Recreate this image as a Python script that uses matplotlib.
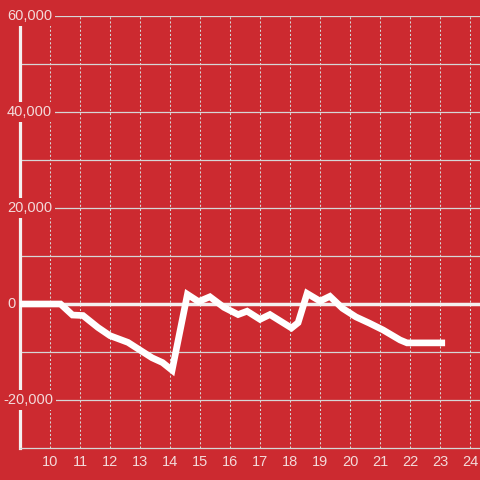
import matplotlib
matplotlib.use("Agg")
import matplotlib.pyplot as plt
import matplotlib.transforms as mtransforms

hours = [9.0, 10.35, 10.75, 11.1, 11.6, 12.0, 12.6, 12.9, 13.4, 13.75, 14.07,
         14.58, 14.95, 15.33, 15.8, 16.27, 16.57, 17.0, 17.33, 18.05, 18.27,
         18.57, 19.0, 19.33, 19.75, 20.2, 20.65, 21.1, 21.67, 21.9, 23.17]
values = [0, 0, -2300, -2400, -4900, -6600, -8000, -9200, -11200, -12200, -13800,
          2000, 500, 1500, -700, -2200, -1500, -3200, -2200, -5000, -3900,
          2200, 600, 1600, -900, -2700, -4000, -5400, -7500, -8100, -8100]

x_ticks = list(range(10, 25))
y_ticks = [60000, 40000, 20000, 0, -20000]
y_labels = ["60,000", "40,000", "20,000", "0", "-20,000"]

bg = "#cc2a30"
txt = "#f3dada"
grid_c = "#d6d6d6"

fig = plt.figure(figsize=(4.8, 4.8), dpi=100, facecolor=bg)
ax = fig.add_axes([20/480, 32/480, 460/480, 432/480])
ax.set_facecolor(bg)
ax.set_xlim(9, 24 + 1/3)
ax.set_ylim(-30000, 60000)

# grid
for yv in [60000, 50000, 40000, 30000, 20000, 10000, -10000, -20000]:
    ax.axhline(yv, color=grid_c, lw=0.9, zorder=1)
for xv in x_ticks:
    ax.axvline(xv, color=grid_c, lw=0.75, linestyle=(0, (2, 2)), zorder=1)
ax.axhline(0, color="#f4f0f0", lw=2.5, zorder=2)

ax.plot(hours, values, color="white", lw=4.8, solid_capstyle="butt",
        solid_joinstyle="miter", zorder=4)

for s in ["top", "right"]:
    ax.spines[s].set_visible(False)
ax.spines["left"].set_color("#f4f0f0")
ax.spines["left"].set_linewidth(2.3)
ax.spines["bottom"].set_color(grid_c)
ax.spines["bottom"].set_linewidth(0.9)

ax.set_yticks([])
ax.set_xticks(x_ticks)
ax.set_xticklabels([str(t) for t in x_ticks])
ax.tick_params(axis="x", length=0, pad=5, labelsize=10.5, labelcolor=txt)
for lab in ax.get_xticklabels():
    lab.set_fontfamily("Liberation Sans")

trans = mtransforms.blended_transform_factory(fig.transFigure, ax.transData)
for yv, lab in zip(y_ticks, y_labels):
    xl = 3/480 if lab.startswith("-") else 7/480
    ax.text(xl, yv, lab, transform=trans, ha="left", va="center", fontsize=10.5,
            color=txt, family="Liberation Sans", zorder=6, clip_on=False,
            bbox=dict(facecolor=bg, edgecolor="none", pad=2.2))

fig.savefig("out.png", dpi=100, facecolor=bg)
